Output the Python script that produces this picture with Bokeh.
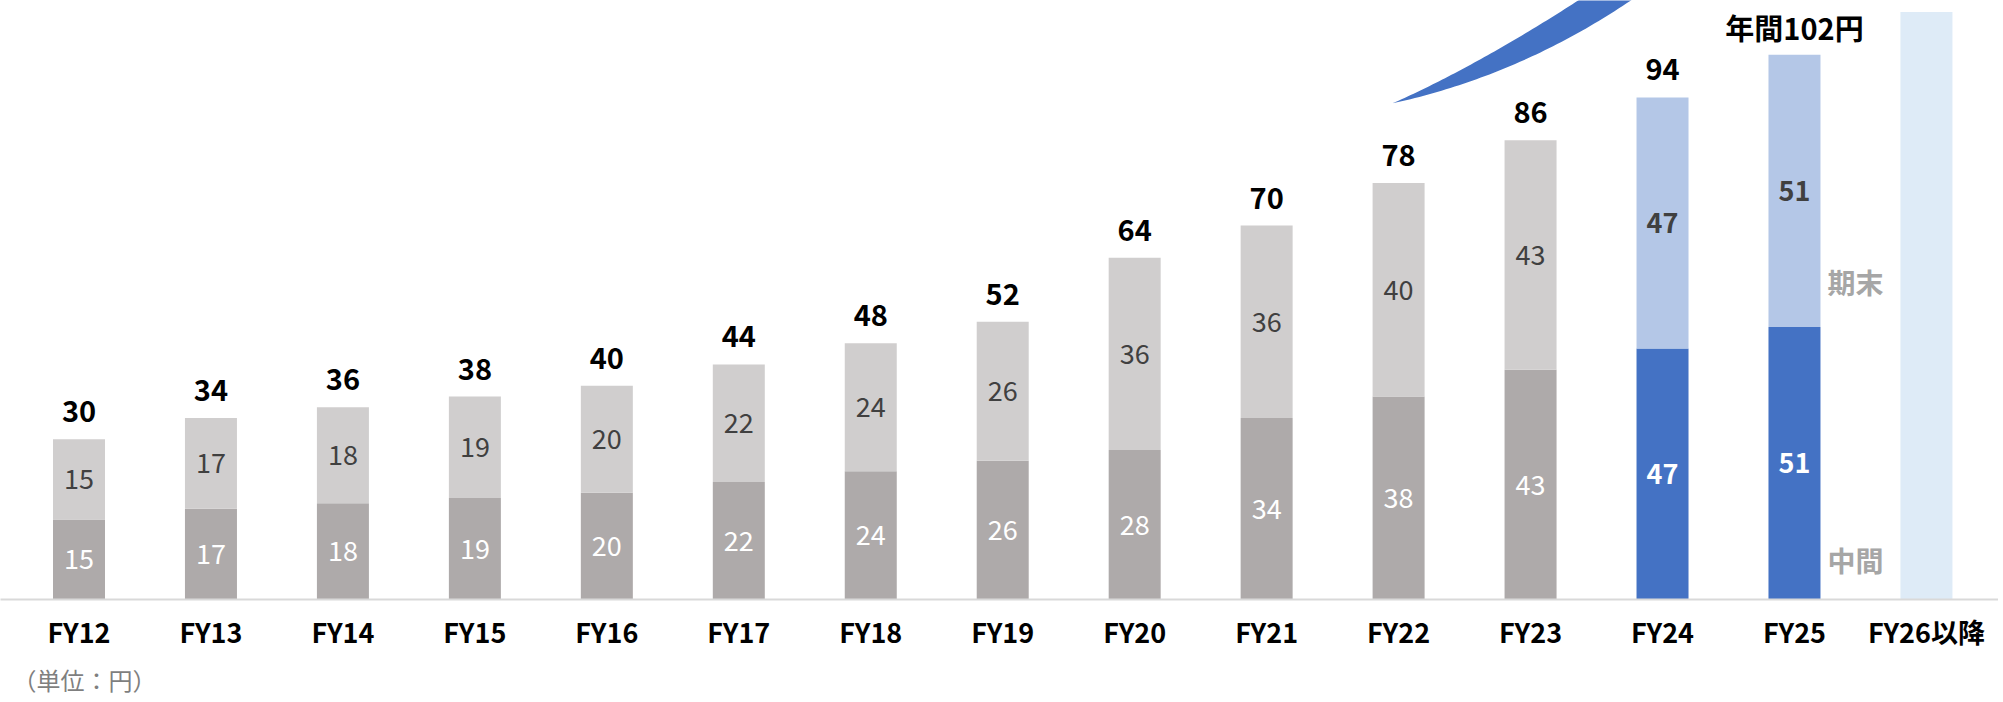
import numpy as np
from bokeh.plotting import figure
from bokeh.models import ColumnDataSource, Range1d, FixedTicker, Title
from bokeh.core.properties import value
from bokeh.embed import file_html
from bokeh.resources import INLINE

# ---------------- data ----------------
categories = ["FY12", "FY13", "FY14", "FY15", "FY16", "FY17", "FY18", "FY19",
              "FY20", "FY21", "FY22", "FY23", "FY24", "FY25", "FY26以降"]
interim = [15, 17, 18, 19, 20, 22, 24, 26, 28, 34, 38, 43, 47, 51]      # 中間
year_end = [15, 17, 18, 19, 20, 22, 24, 26, 36, 36, 40, 43, 47, 51]     # 期末
future_value = 110          # FY26以降 (placeholder bar)
n_gray = 12                 # FY12-FY23 drawn in gray, FY24-FY25 in blue
unit_label = "（単位：円）"
legend_interim = "中間"
legend_year_end = "期末"

# ---------------- styles ----------------
FONT_NAME = "Noto Sans CJK JP"
FONT = value(FONT_NAME)
GRAY_I, GRAY_E = "#AEAAAA", "#D0CECE"
BLUE_I, BLUE_E, BLUE_F = "#4472C4", "#B4C7E7", "#DEEBF7"
PX_PER_CAT = 131.96
PX_PER_UNIT = 5.35
W, H = 1998, 702
FRAME_H = 600
X0 = -78.5 / PX_PER_CAT
X1 = X0 + W / PX_PER_CAT
Y1 = FRAME_H / PX_PER_UNIT
BAR_W = 52 / PX_PER_CAT

n = len(interim)
xs = list(range(n))
totals = [a + b for a, b in zip(interim, year_end)]
total_labels = [str(t) for t in totals]
total_labels[-1] = "年間" + str(totals[-1]) + "円"

p = figure(width=W, height=H, x_range=Range1d(X0, X1), y_range=Range1d(0, Y1),
           output_backend="svg", toolbar_location=None,
           min_border_left=0, min_border_right=0, min_border_top=0,
           min_border_bottom=H - FRAME_H)
p.yaxis.visible = False
p.grid.visible = False
p.outline_line_color = None
p.background_fill_color = "white"
p.border_fill_color = "white"

# ---------------- bars ----------------
src = ColumnDataSource(dict(
    x=xs, interim=interim, year_end=year_end, total=totals,
    c_i=[GRAY_I] * n_gray + [BLUE_I] * (n - n_gray),
    c_e=[GRAY_E] * n_gray + [BLUE_E] * (n - n_gray),
    mid_i=[v / 2 for v in interim],
    mid_e=[a + b / 2 for a, b in zip(interim, year_end)],
    lab_i=[str(v) for v in interim],
    lab_e=[str(v) for v in year_end],
    lab_t=total_labels,
))
p.vbar(x="x", bottom=0, top="interim", width=BAR_W, fill_color="c_i",
       line_color=None, source=src)
p.vbar(x="x", bottom="interim", top="total", width=BAR_W, fill_color="c_e",
       line_color=None, source=src)
p.vbar(x=[len(categories) - 1], bottom=[0], top=[future_value], width=BAR_W,
       fill_color=BLUE_F, line_color=None)

# ---------------- segment labels ----------------
def sub(d, idx):
    return ColumnDataSource({k: [v[i] for i in idx] for k, v in d.items()})

gray_src = sub(src.data, range(n_gray))
blue_src = sub(src.data, range(n_gray, n))

for s, style in ((gray_src, "normal"), (blue_src, "bold")):
    p.text(x="x", y="mid_i", text="lab_i", source=s, text_align="center",
           text_baseline="middle", text_color="white", text_font=FONT,
           text_font_size="27px", text_font_style=style)
    p.text(x="x", y="mid_e", text="lab_e", source=s, text_align="center",
           text_baseline="middle", text_color="#404040", text_font=FONT,
           text_font_size="27px", text_font_style=style)

p.text(x="x", y="total", text="lab_t", source=src, text_align="center",
       text_baseline="middle", y_offset=-28, text_color="black", text_font=FONT,
       text_font_size="29px", text_font_style="bold")

# legend-like labels next to FY25
p.text(x=[n - 1], y=[interim[-1]], text=[legend_year_end], x_offset=61, y_offset=-45,
       text_align="center", text_baseline="middle", text_color="#A6A6A6",
       text_font=FONT, text_font_size="28px", text_font_style="bold")
p.text(x=[n - 1], y=[0], text=[legend_interim], x_offset=61, y_offset=-40,
       text_align="center", text_baseline="middle", text_color="#A6A6A6",
       text_font=FONT, text_font_size="28px", text_font_style="bold")

# ---------------- decorative swoosh (growth arrow) ----------------
def to_data(px, py):
    return np.asarray(px) / PX_PER_CAT + X0, (FRAME_H - np.asarray(py)) / PX_PER_UNIT

def bez(p0, c, p2, t):
    t = t[:, None]
    return (1 - t) ** 2 * np.array(p0) + 2 * (1 - t) * t * np.array(c) + t ** 2 * np.array(p2)

t = np.linspace(0, 1, 60)
upper = bez((1392, 103), (1480, 64), (1590, -8), t)
lower = bez((1392, 103), (1525, 74), (1642, -8), t)
pts = np.vstack([upper, lower[::-1]])
sx, sy = to_data(pts[:, 0], pts[:, 1])
p.patch(list(sx), list(sy), fill_color=BLUE_I, line_color=None)

# ---------------- axis ----------------
ax = p.xaxis[0]
ax.ticker = FixedTicker(ticks=list(range(len(categories))))
ax.major_label_overrides = {i: c for i, c in enumerate(categories)}
ax.major_tick_line_color = None
ax.minor_tick_line_color = None
ax.axis_line_color = "#D9D9D9"
ax.axis_line_width = 2
ax.major_label_standoff = 6
ax.major_label_text_font = FONT_NAME
ax.major_label_text_font_size = "27px"
ax.major_label_text_font_style = "bold"
ax.major_label_text_color = "black"

p.add_layout(Title(text=unit_label, align="left", text_font=FONT_NAME,
                   text_font_size="24px", text_font_style="normal",
                   text_color="#7F7F7F", offset=12, standoff=12), "below")

open("out.html", "w").write(file_html(p, INLINE))
